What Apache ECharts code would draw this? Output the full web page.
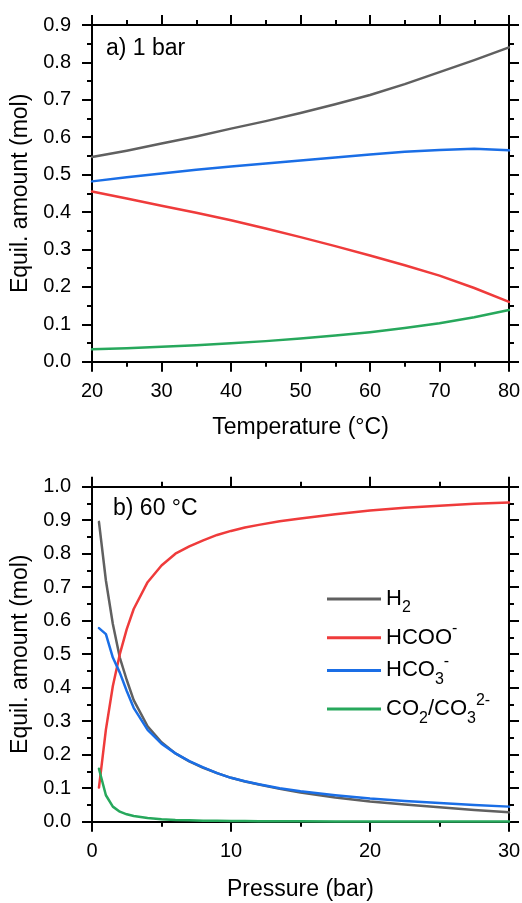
<!DOCTYPE html>
<html>
<head>
<meta charset="utf-8">
<script src="https://cdn.jsdelivr.net/npm/echarts@6/dist/echarts.min.js"></script>
<style>
  html, body { margin: 0; padding: 0; background: #fff; }
  #chart { width: 522px; height: 903px; }
</style>
</head>
<body>
<div id="chart"></div>
<script>
// ---- Panel a) 1 bar : amounts vs temperature ----
const tempC = [20, 25, 30, 35, 40, 45, 50, 55, 60, 65, 70, 75, 80];
const h2Temp    = [0.547, 0.564, 0.583, 0.602, 0.623, 0.643, 0.665, 0.688, 0.713, 0.742, 0.774, 0.806, 0.840];
const hcooTemp  = [0.455, 0.436, 0.417, 0.398, 0.378, 0.356, 0.333, 0.309, 0.284, 0.258, 0.230, 0.197, 0.160];
const hco3Temp  = [0.482, 0.493, 0.503, 0.513, 0.522, 0.530, 0.538, 0.546, 0.554, 0.561, 0.566, 0.569, 0.565];
const co2Temp   = [0.033, 0.036, 0.040, 0.044, 0.049, 0.055, 0.062, 0.070, 0.079, 0.090, 0.103, 0.119, 0.138];

// ---- Panel b) 60 °C : amounts vs pressure ----
const pressureBar = [0.5, 1, 1.5, 2, 2.5, 3, 4, 5, 6, 7, 8, 9, 10, 11, 12, 13.5, 15, 17.5, 20, 22.5, 25, 27.5, 30];
const h2Pres   = [0.895, 0.720, 0.590, 0.490, 0.423, 0.363, 0.285, 0.237, 0.204, 0.180, 0.161, 0.145, 0.131, 0.120, 0.111, 0.098, 0.087, 0.072, 0.060, 0.051, 0.043, 0.035, 0.028];
const hcooPres = [0.102, 0.275, 0.405, 0.500, 0.575, 0.635, 0.715, 0.765, 0.800, 0.822, 0.840, 0.856, 0.868, 0.878, 0.886, 0.897, 0.905, 0.918, 0.929, 0.937, 0.943, 0.949, 0.953];
const hco3Pres = [0.578, 0.560, 0.490, 0.445, 0.390, 0.340, 0.274, 0.233, 0.204, 0.181, 0.162, 0.145, 0.131, 0.121, 0.112, 0.100, 0.091, 0.079, 0.069, 0.062, 0.056, 0.050, 0.045];
const co2Pres  = [0.158, 0.079, 0.045, 0.030, 0.022, 0.017, 0.011, 0.007, 0.005, 0.004, 0.003, 0.0025, 0.002, 0.0018, 0.0015, 0.0012, 0.001, 0.0009, 0.0008, 0.0006, 0.0005, 0.0005, 0.0004];

const seriesNames = ['H2', 'HCOO', 'HCO3', 'CO2'];
const seriesColors = ['#606060', '#ef3b3b', '#1a6ee6', '#27a85c'];

const FONT = "'Liberation Sans', Arial, Helvetica, sans-serif";

function pairs(xs, ys) { return xs.map((x, i) => [x, ys[i]]); }

const axisLineStyle = { show: true, onZero: false, lineStyle: { color: '#000', width: 2 } };
const tickStyle = { show: true, inside: false, length: 10, lineStyle: { color: '#000', width: 2 } };
const minorTickStyle = { show: true, splitNumber: 2, length: 5, lineStyle: { color: '#000', width: 2 } };

function xAxisMain(grid, min, max, name, gap) {
  return {
    type: 'value', gridIndex: grid, position: 'bottom', min: min, max: max, interval: 10,
    name: name, nameLocation: 'middle', nameGap: gap,
    nameTextStyle: { fontFamily: FONT, fontSize: 23, color: '#000' },
    axisLine: axisLineStyle, axisTick: tickStyle, minorTick: minorTickStyle,
    splitLine: { show: false },
    axisLabel: { show: true, margin: 20, fontFamily: FONT, fontSize: 20, color: '#000',
      showMinLabel: true, showMaxLabel: true, formatter: v => String(v) }
  };
}
function xAxisTop(grid, min, max) {
  return {
    type: 'value', gridIndex: grid, position: 'top', min: min, max: max, interval: 10,
    axisLine: axisLineStyle, axisTick: tickStyle, minorTick: minorTickStyle,
    splitLine: { show: false }, axisLabel: { show: false }
  };
}
function yAxisMain(grid, max) {
  return {
    type: 'value', gridIndex: grid, position: 'left', min: 0, max: max, interval: 0.1,
    name: 'Equil. amount (mol)', nameLocation: 'middle', nameGap: 57,
    nameTextStyle: { fontFamily: FONT, fontSize: 23, color: '#000' },
    axisLine: axisLineStyle, axisTick: tickStyle, minorTick: minorTickStyle,
    splitLine: { show: false },
    axisLabel: { show: true, margin: 21, fontFamily: FONT, fontSize: 20, color: '#000',
      showMinLabel: true, showMaxLabel: true, formatter: v => v.toFixed(1) }
  };
}
function yAxisRight(grid, max) {
  return {
    type: 'value', gridIndex: grid, position: 'right', min: 0, max: max, interval: 0.1,
    axisLine: axisLineStyle, axisTick: tickStyle, minorTick: minorTickStyle,
    splitLine: { show: false }, axisLabel: { show: false }
  };
}

function lineSeries(idx, xAxis, yAxis, data, withLegend) {
  return {
    type: 'line', name: withLegend ? seriesNames[idx] : seriesNames[idx] + '_a',
    xAxisIndex: xAxis, yAxisIndex: yAxis, data: data,
    showSymbol: false, symbol: 'none', smooth: false,
    lineStyle: { color: seriesColors[idx], width: 2.5, join: 'round', cap: 'round' },
    itemStyle: { color: seriesColors[idx] },
    emphasis: { disabled: true }, animation: false, z: 3 + idx
  };
}

const legendLabels = {
  'H2': '{n|H}{sub|2}',
  'HCOO': '{n|HCOO}{sup|-}',
  'HCO3': '{n|HCO}{sub|3}{sup|-}',
  'CO2': '{n|CO}{sub|2}{n|/CO}{sub|3}{sup|2-}'
};

const option = {
  backgroundColor: '#fff',
  animation: false,
  grid: [
    { left: 92, right: 13, top: 25, height: 336.7, outerBoundsMode: 'none' },
    { left: 92, right: 13, top: 486.7, height: 335, outerBoundsMode: 'none' }
  ],
  xAxis: [
    xAxisMain(0, 20, 80, 'Temperature (°C)', 54),
    xAxisTop(0, 20, 80),
    xAxisMain(1, 0, 30, 'Pressure (bar)', 56),
    xAxisTop(1, 0, 30)
  ],
  yAxis: [
    yAxisMain(0, 0.9),
    yAxisRight(0, 0.9),
    yAxisMain(1, 1.0),
    yAxisRight(1, 1.0)
  ],
  legend: {
    data: seriesNames,
    orient: 'vertical', left: 327, top: 588, padding: 0,
    itemWidth: 54, itemHeight: 14, itemGap: 4.7,
    selectedMode: false,
    icon: 'path://M0,5.5 L54,5.5 L54,8.5 L0,8.5 Z',
    formatter: name => legendLabels[name],
    textStyle: {
      fontFamily: FONT, fontSize: 22, color: '#000',
      rich: {
        n: { fontFamily: FONT, fontSize: 22, lineHeight: 34, color: '#000' },
        sub: { fontFamily: FONT, fontSize: 16, lineHeight: 16, verticalAlign: 'bottom', color: '#000' },
        sup: { fontFamily: FONT, fontSize: 16, lineHeight: 24, verticalAlign: 'top', color: '#000' }
      }
    }
  },
  graphic: [
    { type: 'text', left: 106, top: 37, style: { text: 'a) 1 bar', font: '23px ' + FONT, fill: '#000' } },
    { type: 'text', left: 113, top: 497, style: { text: 'b) 60 °C', font: '23px ' + FONT, fill: '#000' } }
  ],
  series: [
    lineSeries(0, 0, 0, pairs(tempC, h2Temp), false),
    lineSeries(1, 0, 0, pairs(tempC, hcooTemp), false),
    lineSeries(2, 0, 0, pairs(tempC, hco3Temp), false),
    lineSeries(3, 0, 0, pairs(tempC, co2Temp), false),
    lineSeries(0, 2, 2, pairs(pressureBar, h2Pres), true),
    lineSeries(1, 2, 2, pairs(pressureBar, hcooPres), true),
    lineSeries(2, 2, 2, pairs(pressureBar, hco3Pres), true),
    lineSeries(3, 2, 2, pairs(pressureBar, co2Pres), true)
  ]
};

const chart = echarts.init(document.getElementById('chart'), null, { renderer: 'canvas' });
chart.setOption(option);
</script>
</body>
</html>
